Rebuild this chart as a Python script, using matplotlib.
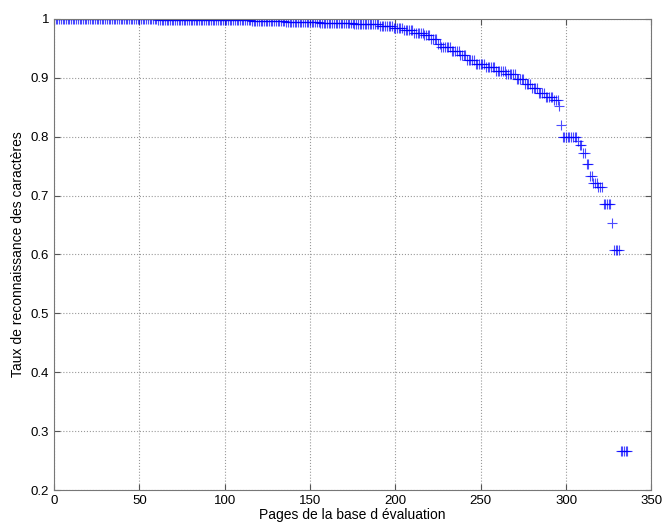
import numpy as np
import matplotlib
matplotlib.use('Agg')
import matplotlib.pyplot as plt

# recognition rate per page, read as runs of (rate, number of pages), sorted descending
rates = [1.000, 0.999, 0.998, 0.997, 0.995, 0.993, 0.991, 0.988, 0.985, 0.981,
         0.977, 0.972, 0.966, 0.958, 0.952, 0.946, 0.938, 0.930, 0.924, 0.918,
         0.912, 0.906, 0.898, 0.890, 0.882, 0.875, 0.868, 0.862, 0.852, 0.820,
         0.800, 0.793, 0.786, 0.772, 0.754, 0.733, 0.722, 0.715, 0.685, 0.653,
         0.607, 0.267]
counts = [60, 30, 25, 20, 20, 20, 15, 8, 6, 6,
          6, 4, 4, 2, 6, 5, 4, 5, 6, 6,
          6, 6, 5, 4, 4, 4, 5, 3, 1, 1,
          9, 1, 2, 2, 2, 2, 3, 3, 5, 1,
          4, 5]

xticks = [0, 50, 100, 150, 200, 250, 300, 350]
yticks = [0.2, 0.3, 0.4, 0.5, 0.6, 0.7, 0.8, 0.9, 1.0]
ytick_labels = ['0.2', '0.3', '0.4', '0.5', '0.6', '0.7', '0.8', '0.9', '1']

taux = np.repeat(rates, counts)
pages = np.arange(1, len(taux) + 1)

plt.rcParams['font.family'] = ['Liberation Sans', 'DejaVu Sans']

fig = plt.figure(figsize=(6.64, 5.27), dpi=100)
ax = fig.add_axes([0.0813, 0.0702, 0.8997, 0.8938])

ax.plot(pages, taux, linestyle='none', marker='+', color='blue',
        markersize=7, markeredgewidth=0.8, alpha=0.7)

ax.set_xlim(0, 350)
ax.set_ylim(0.2, 1.0)
ax.set_xticks(xticks)
ax.set_yticks(yticks)
ax.set_yticklabels(ytick_labels)
ax.grid(True, linestyle=':', color='#999999', linewidth=0.8)
ax.tick_params(direction='in', top=True, right=True, labelsize=9.5, length=4,
               color='#555555')
for s in ax.spines.values():
    s.set_color('#777777')
    s.set_linewidth(0.8)

ax.set_xlabel('Pages de la base d évaluation', fontsize=10, labelpad=1)
ax.set_ylabel('Taux de reconnaissance des caractères', fontsize=10, labelpad=4)

fig.savefig('out.png', dpi=100, facecolor='white')
